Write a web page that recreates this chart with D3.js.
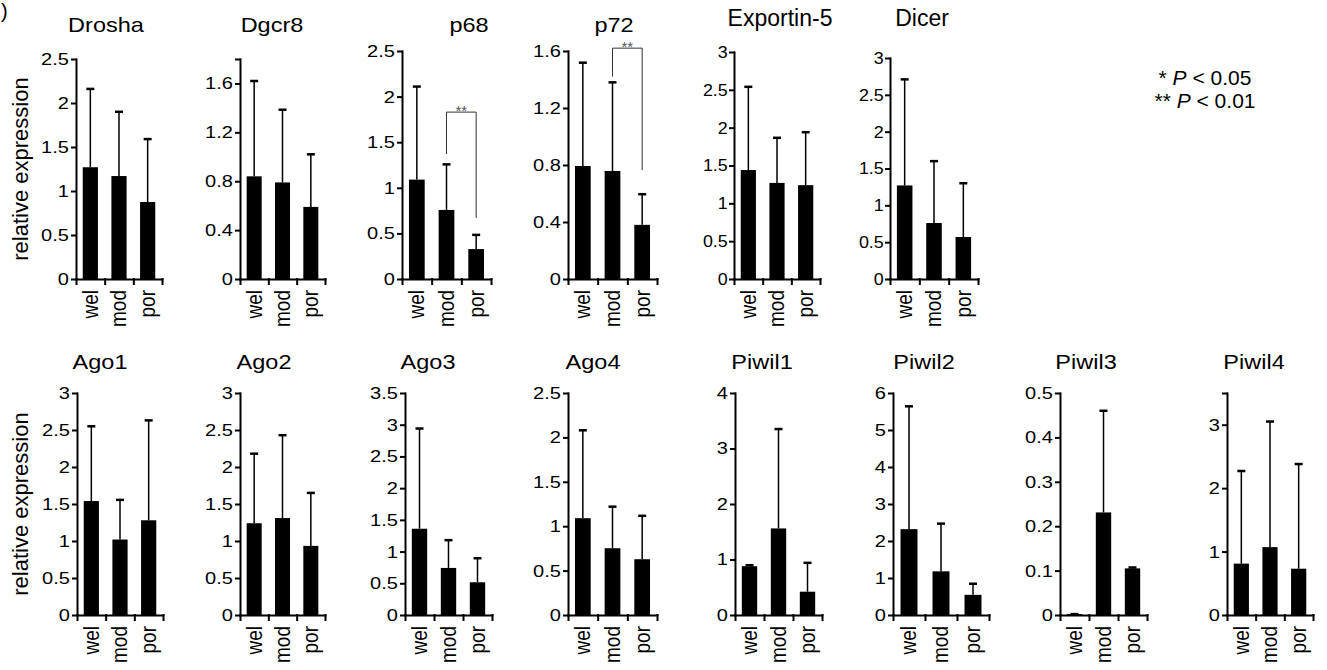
<!DOCTYPE html>
<html>
<head>
<meta charset="utf-8">
<script src="https://cdn.jsdelivr.net/npm/d3@7"></script>
<style>
  body { margin: 0; background: #fff; }
  svg { display: block; font-family: Arial, "Liberation Sans", sans-serif; font-weight: 400; }
</style>
</head>
<body>
<svg id="fig" width="1327" height="670"></svg>
<script>
// categories on every x axis
const groups = ["wel", "mod", "por"];

// bar heights (mean) and top of the error whisker
const droshaMean = [1.27, 1.17, 0.875],  droshaUpper = [2.16, 1.90, 1.59];
const dgcr8Mean = [0.84, 0.79, 0.59],    dgcr8Upper = [1.62, 1.385, 1.02];
const p68Mean = [1.09, 0.757, 0.328],    p68Upper = [2.11, 1.257, 0.484];
const p72Mean = [0.793, 0.758, 0.38],    p72Upper = [1.518, 1.38, 0.595];
const exportinMean = [1.44, 1.27, 1.24], exportinUpper = [2.54, 1.866, 1.94];
const dicerMean = [1.27, 0.76, 0.57],    dicerUpper = [2.71, 1.60, 1.30];
const ago1Mean = [1.54, 1.02, 1.28],     ago1Upper = [2.55, 1.556, 2.63];
const ago2Mean = [1.24, 1.31, 0.934],    ago2Upper = [2.18, 2.43, 1.65];
const ago3Mean = [1.36, 0.742, 0.516],   ago3Upper = [2.94, 1.18, 0.895];
const ago4Mean = [1.09, 0.752, 0.628],   ago4Upper = [2.08, 1.22, 1.117];
const piwil1Mean = [0.879, 1.56, 0.42],  piwil1Upper = [0.897, 3.35, 0.94];
const piwil2Mean = [2.32, 1.18, 0.545],  piwil2Upper = [5.64, 2.47, 0.845];
const piwil3Mean = [0.002, 0.231, 0.105], piwil3Upper = [0.002, 0.46, 0.107];
const piwil4Mean = [0.81, 1.07, 0.73],   piwil4Upper = [2.27, 3.05, 2.38];

// y tick labels
const ticksHalf25 = [0, 0.5, 1, 1.5, 2, 2.5];
const ticksHalf3 = [0, 0.5, 1, 1.5, 2, 2.5, 3];
const ticksHalf35 = [0, 0.5, 1, 1.5, 2, 2.5, 3, 3.5];
const ticks16 = [0, 0.4, 0.8, 1.2, 1.6];
const ticksInt4 = [0, 1, 2, 3, 4];
const ticksInt6 = [0, 1, 2, 3, 4, 5, 6];
const ticksInt3 = [0, 1, 2, 3];
const ticksTenth = [0, 0.1, 0.2, 0.3, 0.4, 0.5];

// significance brackets (mod vs por)
const sigGenes = ["p68", "p72"];
const sigTop = [1.83, 1.62];
const sigLeftEnd = [1.37, 1.42];
const sigRightEnd = [0.67, 0.765];

// panel table: data refs + layout
const panels = [
  {name: "Drosha", mean: droshaMean, upper: droshaUpper, ticks: ticksHalf25, max: 2.5, x0: 76, x1: 162, top: 59, zero: 279, tx: 106, ty: 32},
  {name: "Dgcr8", mean: dgcr8Mean, upper: dgcr8Upper, ticks: ticks16, max: 1.8, x0: 240, x1: 325, top: 59, zero: 279, tx: 272, ty: 32},
  {name: "p68", mean: p68Mean, upper: p68Upper, ticks: ticksHalf25, max: 2.5, x0: 402, x1: 491, top: 51, zero: 279, tx: 469, ty: 32},
  {name: "p72", mean: p72Mean, upper: p72Upper, ticks: ticks16, max: 1.6, x0: 568, x1: 657, top: 51, zero: 279, tx: 614, ty: 32},
  {name: "Exportin-5", mean: exportinMean, upper: exportinUpper, ticks: ticksHalf3, max: 3, x0: 734, x1: 820, top: 52, zero: 279, tx: 780, ty: 26, plain: true},
  {name: "Dicer", mean: dicerMean, upper: dicerUpper, ticks: ticksHalf3, max: 3, x0: 890, x1: 978, top: 58, zero: 279, tx: 922, ty: 26, plain: true},
  {name: "Ago1", mean: ago1Mean, upper: ago1Upper, ticks: ticksHalf3, max: 3, x0: 77, x1: 163, top: 393, zero: 615, tx: 100, ty: 369},
  {name: "Ago2", mean: ago2Mean, upper: ago2Upper, ticks: ticksHalf3, max: 3, x0: 240, x1: 325, top: 393, zero: 615, tx: 264, ty: 369},
  {name: "Ago3", mean: ago3Mean, upper: ago3Upper, ticks: ticksHalf35, max: 3.5, x0: 405, x1: 492, top: 393, zero: 615, tx: 428, ty: 369},
  {name: "Ago4", mean: ago4Mean, upper: ago4Upper, ticks: ticksHalf25, max: 2.5, x0: 568, x1: 657, top: 393, zero: 615, tx: 593, ty: 369},
  {name: "Piwil1", mean: piwil1Mean, upper: piwil1Upper, ticks: ticksInt4, max: 4, x0: 735, x1: 822, top: 393, zero: 615, tx: 762, ty: 369},
  {name: "Piwil2", mean: piwil2Mean, upper: piwil2Upper, ticks: ticksInt6, max: 6, x0: 893, x1: 989, top: 393, zero: 615, tx: 924, ty: 369},
  {name: "Piwil3", mean: piwil3Mean, upper: piwil3Upper, ticks: ticksTenth, max: 0.5, x0: 1060, x1: 1147, top: 393, zero: 615, tx: 1086, ty: 369},
  {name: "Piwil4", mean: piwil4Mean, upper: piwil4Upper, ticks: ticksInt3, max: 3.5, x0: 1227, x1: 1313, top: 393, zero: 615, tx: 1254, ty: 369}
];

const svg = d3.select("#fig");

// panel letter remnant at the corner
svg.append("text").attr("x", 1).attr("y", 18)
  .attr("font-size", 20).text(")");

panels.forEach(function(p){
  const g = svg.append("g");

  const y = d3.scaleLinear().domain([0, p.max]).range([p.zero, p.top]);
  const xb = d3.scaleBand().domain(groups).range([p.x0, p.x1]);
  const xl = d3.scaleLinear().domain([0, groups.length]).range([p.x0, p.x1]);
  const bw = xb.bandwidth() * 0.53;
  const cx = d => xb(d) + xb.bandwidth() / 2;

  //bars
  g.selectAll(".bar")
    .data(groups)
    .enter()
    .append("rect")
    .attr("class", "bar")
    .attr("x", d => cx(d) - bw / 2)
    .attr("y", (d, i) => y(p.mean[i]))
    .attr("width", bw)
    .attr("height", (d, i) => p.zero - y(p.mean[i]))
    .attr("fill", "#000");

  //error whiskers, upper side only
  g.selectAll(".err")
    .data(groups)
    .enter()
    .append("line")
    .attr("x1", d => cx(d)).attr("x2", d => cx(d))
    .attr("y1", (d, i) => y(p.mean[i]))
    .attr("y2", (d, i) => y(p.upper[i]))
    .attr("stroke", "#000").attr("stroke-width", 1.5);
  g.selectAll(".cap")
    .data(groups)
    .enter()
    .append("line")
    .attr("x1", d => cx(d) - 4).attr("x2", d => cx(d) + 4)
    .attr("y1", (d, i) => y(p.upper[i]))
    .attr("y2", (d, i) => y(p.upper[i]))
    .attr("stroke", "#000").attr("stroke-width", 2.5);

  // y axis (an unlabeled tick at the top when the axis runs past the last label)
  let tv = p.ticks.slice();
  if (p.max > tv[tv.length - 1]) tv.push(p.max);
  const yAxis = d3.axisLeft(y)
    .tickValues(tv)
    .tickFormat(v => p.ticks.includes(v) ? String(v) : "")
    .tickSize(4).tickPadding(2).tickSizeOuter(0);
  const ya = g.append("g")
    .attr("transform", "translate(" + p.x0 + ",0)")
    .call(yAxis);
  ya.attr("font-family", null).attr("font-size", null);
  ya.selectAll("path, line").attr("stroke-width", 2).attr("stroke-linecap", "square");
  ya.selectAll("text")
    .attr("font-size", 17)
    .attr("fill", "#000")
    .attr("transform", "scale(" + (p.plain ? 1.05 : 1.18) + ",1)");

  // x axis: ticks at category boundaries
  const xAxis = d3.axisBottom(xl)
    .tickValues(d3.range(groups.length + 1))
    .tickFormat("")
    .tickSize(5).tickSizeOuter(0);
  const xa = g.append("g")
    .attr("transform", "translate(0," + p.zero + ")")
    .call(xAxis);
  xa.selectAll("path, line").attr("stroke-width", 2).attr("stroke-linecap", "square");

  // rotated category labels
  g.selectAll(".xlab")
    .data(groups)
    .enter()
    .append("text")
    .attr("transform", d => "translate(" + cx(d) + "," + (p.zero + 11) + ") scale(1.12,1) rotate(-90)")
    .attr("text-anchor", "end")
    .attr("dy", "0.35em")
    .attr("font-size", 19)
    .text(d => d);

  // gene title
  g.append("text")
    .attr("transform", "translate(" + p.tx + "," + p.ty + ") scale(" + (p.plain ? 1 : 1.12) + ",1)")
    .attr("text-anchor", "middle")
    .attr("font-size", p.plain ? 23 : 21)
    .text(p.name);

  // significance bracket
  const si = sigGenes.indexOf(p.name);
  if (si >= 0) {
    const a = cx("mod"), b = cx("por");
    g.append("path")
      .attr("d", "M" + a + "," + y(sigLeftEnd[si]) + "V" + y(sigTop[si]) + "H" + b + "V" + y(sigRightEnd[si]))
      .attr("fill", "none").attr("stroke", "#333").attr("stroke-width", 1);
    g.append("text")
      .attr("x", (a + b) / 2).attr("y", y(sigTop[si]) + 4)
      .attr("text-anchor", "middle")
      .attr("font-size", 15)
      .attr("fill", "#555")
      .text("**");
  }
});

// y axis titles, one per row
[169, 504].forEach(function(cy){
  svg.append("text")
    .attr("transform", "translate(28," + cy + ") rotate(-90)")
    .attr("text-anchor", "middle")
    .attr("font-size", 22)
    .text("relative expression");
});

// p-value key
const keyStars = ["*", "**"];
const keyValues = ["0.05", "0.01"];
keyStars.forEach(function(s, i){
  const t = svg.append("text")
    .attr("x", 1205).attr("y", 85 + i * 23)
    .attr("text-anchor", "middle")
    .attr("font-size", 21);
  t.append("tspan").text(s + " ");
  t.append("tspan").attr("font-style", "italic").text("P");
  t.append("tspan").text(" < " + keyValues[i]);
});
</script>
</body>
</html>
